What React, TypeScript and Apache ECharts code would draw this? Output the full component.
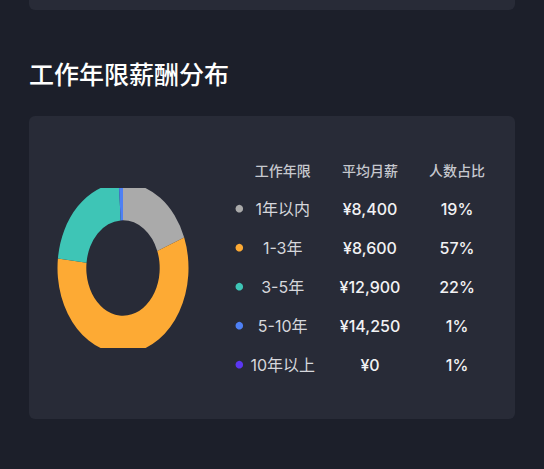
import React, { useEffect, useRef } from "react";
import * as echarts from "echarts";

const title = "工作年限薪酬分布";
const headers = ["工作年限", "平均月薪", "人数占比"];
const categories = ["1年以内", "1-3年", "3-5年", "5-10年", "10年以上"];
const avgSalary = [8400, 8600, 12900, 14250, 0];
const shareLabels = ["19%", "57%", "22%", "1%", "1%"];
const pieShares = [19, 57, 22, 1, 0];
const colors = ["#aaaaaa", "#fdaa34", "#3ec5b6", "#4e80f4", "#5b36f2"];

const FONT = 'Inter, "Noto Sans CJK SC", "Noto Sans", sans-serif';
const BG = "#1c1f2a";
const PANEL = "#282b37";

export default function App() {
  const mainRef = useRef<HTMLDivElement>(null);
  const pieRef = useRef<HTMLDivElement>(null);

  useEffect(() => {
    const main = echarts.init(mainRef.current!, null, { renderer: "svg" });
    const colX = [282.7, 370, 457];
    const headerY = 170;
    const rowY0 = 208.7;
    const rowStep = 39;

    const elements: any[] = [
      { type: "rect", shape: { x: 0, y: 0, width: 544, height: 469 }, style: { fill: BG } },
      { type: "rect", shape: { x: 29, y: -20, width: 486, height: 30, r: 6 }, style: { fill: PANEL } },
      { type: "rect", shape: { x: 29, y: 116, width: 486, height: 303, r: 6 }, style: { fill: PANEL } },
      {
        type: "text",
        style: {
          text: title, x: 29, y: 75, fill: "#ffffff", fontSize: 25, fontWeight: 500,
          fontFamily: FONT, align: "left", verticalAlign: "middle",
        },
      },
    ];
    headers.forEach((h, i) => {
      elements.push({
        type: "text",
        style: {
          text: h, x: colX[i], y: headerY, fill: "#c6c8ce", fontSize: 14, fontWeight: 500,
          fontFamily: FONT, align: "center", verticalAlign: "middle",
        },
      });
    });
    categories.forEach((c, i) => {
      const y = rowY0 + i * rowStep;
      elements.push({ type: "circle", shape: { cx: 239.3, cy: y, r: 3.8 }, style: { fill: colors[i] } });
      elements.push({
        type: "text",
        style: {
          text: c, x: colX[0], y, fill: "#d6d7dc", fontSize: 16, fontWeight: 400,
          fontFamily: FONT, align: "center", verticalAlign: "middle",
        },
      });
      elements.push({
        type: "text",
        style: {
          text: "¥" + avgSalary[i].toLocaleString("en-US"), x: colX[1], y, fill: "#f2f2f4",
          fontSize: 16, fontWeight: 500, fontFamily: FONT, align: "center", verticalAlign: "middle",
        },
      });
      elements.push({
        type: "text",
        style: {
          text: shareLabels[i], x: colX[2], y, fill: "#f2f2f4",
          fontSize: 16, fontWeight: 500, fontFamily: FONT, align: "center", verticalAlign: "middle",
        },
      });
    });

    main.setOption({ animation: false, graphic: { elements } });

    const pie = echarts.init(pieRef.current!, null, { renderer: "svg" });
    pie.setOption({
      animation: false,
      series: [
        {
          type: "pie",
          center: ["50%", "50%"],
          radius: [36.7, 65.5],
          startAngle: 90,
          clockwise: true,
          label: { show: false },
          labelLine: { show: false },
          emphasis: { disabled: true },
          itemStyle: { borderWidth: 0 },
          data: categories.map((c, i) => ({
            name: c,
            value: pieShares[i],
            itemStyle: { color: colors[i] },
          })),
        },
      ],
    });

    return () => {
      main.dispose();
      pie.dispose();
    };
  }, []);

  return (
    <div style={{ position: "fixed", left: 0, top: 0, width: 544, height: 469, background: BG }}>
      <div ref={mainRef} style={{ position: "absolute", left: 0, top: 0, width: 544, height: 469 }} />
      <div
        style={{
          position: "absolute",
          left: 53.3,
          top: 188,
          width: 140,
          height: 160,
          overflow: "hidden",
        }}
      >
        <div
          ref={pieRef}
          style={{
            position: "absolute",
            left: 0,
            top: 10,
            width: 140,
            height: 140,
            transform: "scaleY(1.3)",
            transformOrigin: "50% 50%",
          }}
        />
      </div>
    </div>
  );
}
